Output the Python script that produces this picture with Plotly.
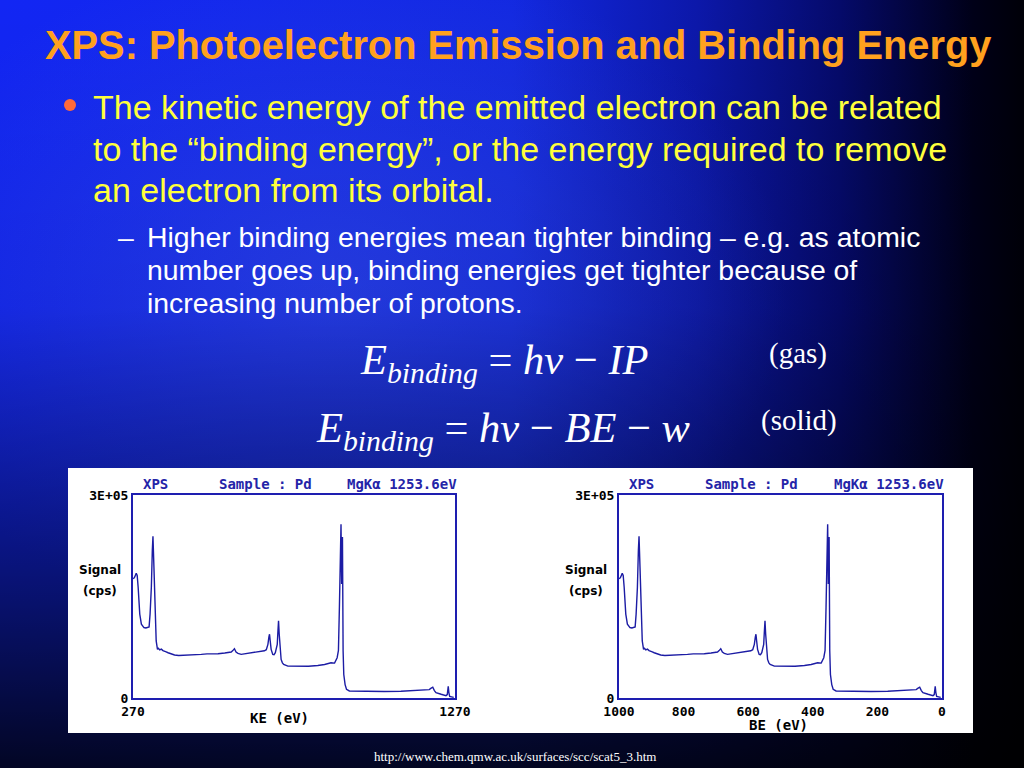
import base64
import plotly.graph_objects as go

# ---------------- data ----------------
ke = [271, 275, 280, 283, 286, 291, 296, 300, 304, 310, 316, 320, 323, 327, 330, 332, 335, 339,
      342, 346, 349, 353, 358, 363, 368, 373, 379, 388, 399, 412, 430, 445, 460, 482, 500, 520,
      534, 555, 570, 575, 580, 585, 590, 596, 606, 620, 637, 652, 668, 678, 684, 689, 692, 694,
      696, 699, 704, 708, 712, 715, 718, 720, 722, 724, 726, 730, 734, 738, 751, 770, 792, 815,
      844, 865, 885, 896, 904, 908, 911, 913, 916, 918, 920.5, 922.5, 924.6, 928.7, 933, 942,
      970, 999, 1050, 1102, 1154, 1180, 1190, 1196, 1201, 1206, 1211, 1227, 1242, 1246, 1249,
      1251, 1253.5, 1266]
signal = [176000, 178500, 184500, 181000, 163600, 124000, 109100, 105500, 104100, 103500, 104500,
          105100, 124000, 163600, 218200, 239000, 193400, 114100, 84300, 71900, 73500, 71000,
          72200, 70000, 69400, 68200, 66900, 65000, 63500, 62800, 63000, 63800, 64200, 64500,
          65200, 65000, 65500, 66500, 67500, 67900, 70000, 72900, 68000, 66000, 64500, 65500,
          66400, 67500, 68900, 69800, 71400, 79300, 90000, 94200, 85000, 71900, 64500, 64000,
          66900, 72000, 79300, 98000, 114100, 95000, 74400, 57000, 52000, 49600, 47100, 46800,
          46600, 47000, 48100, 49500, 52100, 51600, 59500, 70400, 133900, 203300, 256900, 168600,
          238000, 69400, 34700, 19800, 12900, 10400, 10000, 9900, 9700, 9900, 10900, 11500, 12400,
          14500, 15900, 11000, 7900, 5500, 3500, 5000, 17400, 8000, 2500, 1000]
# binding-energy axis of the right panel: BE = (hv - w) - KE, with hv - w read as 1270 eV
HV_MINUS_W = 1270
be = [HV_MINUS_W - k for k in ke]

ke_ticks = [270, 1270]
be_ticks = [1000, 800, 600, 400, 200, 0]
y_ticks = [0, 300000]
y_ticktext = ["0", "3E+05"]

W, H = 1024, 768


def px(x):
    return x / W


def py(y):
    return 1 - y / H


# ---------------- background gradient (decoration) ----------------
svg = f'''<svg xmlns="http://www.w3.org/2000/svg" width="{W}" height="{H}" viewBox="0 0 {W} {H}" preserveAspectRatio="none">
<defs>
<linearGradient id="h" x1="0" y1="0" x2="1" y2="0">
<stop offset="0" stop-color="#1226f4"/>
<stop offset="0.5" stop-color="#1228e0"/>
<stop offset="0.68" stop-color="#0c18aa"/>
<stop offset="0.82" stop-color="#050a6a"/>
<stop offset="0.95" stop-color="#000018"/>
<stop offset="1" stop-color="#000008"/>
</linearGradient>
<radialGradient id="r" cx="0.32" cy="0.38" r="0.45">
<stop offset="0" stop-color="#5a78ff" stop-opacity="0.28"/>
<stop offset="1" stop-color="#5a78ff" stop-opacity="0"/>
</radialGradient>
<linearGradient id="v" x1="0" y1="0" x2="0" y2="1">
<stop offset="0" stop-color="#000" stop-opacity="0"/>
<stop offset="0.4" stop-color="#000" stop-opacity="0.08"/>
<stop offset="0.78" stop-color="#000" stop-opacity="0.55"/>
<stop offset="1" stop-color="#000" stop-opacity="0.85"/>
</linearGradient>
</defs>
<rect width="{W}" height="{H}" fill="url(#h)"/>
<rect width="{W}" height="{H}" fill="url(#r)"/>
<rect width="{W}" height="{H}" fill="url(#v)"/>
</svg>'''
bg_src = "data:image/svg+xml;base64," + base64.b64encode(svg.encode()).decode()

LINE = "#1c1ca4"
FRAME = "#1e1eb0"
HEAD = "#2424a8"
MONO = "DejaVu Sans Mono"

fig = go.Figure()
fig.add_trace(go.Scatter(x=ke, y=signal, xaxis="x", yaxis="y", mode="lines",
                         line=dict(color=LINE, width=1.4), hoverinfo="skip"))
fig.add_trace(go.Scatter(x=be, y=signal, xaxis="x2", yaxis="y2", mode="lines",
                         line=dict(color=LINE, width=1.4), hoverinfo="skip"))

axis_common = dict(showgrid=False, zeroline=False, showline=True, mirror=True,
                   linecolor=FRAME, linewidth=2, ticks="", fixedrange=True, automargin=False,
                   tickfont=dict(family=MONO, size=13, color="black", weight="bold"))

fig.update_layout(
    width=W, height=H, margin=dict(l=0, r=0, t=0, b=0, pad=0), autosize=False,
    paper_bgcolor="#00003a", plot_bgcolor="rgba(0,0,0,0)", showlegend=False,
    images=[dict(source=bg_src, xref="paper", yref="paper", x=0, y=1, sizex=1, sizey=1,
                 xanchor="left", yanchor="top", sizing="stretch", layer="below")],
    shapes=[
        dict(type="rect", xref="paper", yref="paper", x0=px(68), x1=px(973), y0=py(733), y1=py(468),
             fillcolor="white", line=dict(width=0), layer="below"),
        dict(type="circle", xref="paper", yref="paper", x0=px(64), x1=px(76), y0=py(111), y1=py(99),
             fillcolor="#ff6a3a", line=dict(width=0)),
    ],
    xaxis=dict(domain=[px(133), px(455)], range=[270, 1270], tickvals=ke_ticks, anchor="y", **axis_common),
    yaxis=dict(domain=[py(698), py(495)], range=[0, 300000], tickvals=y_ticks, ticktext=y_ticktext,
               anchor="x", **axis_common),
    xaxis2=dict(domain=[px(619), px(942)], range=[1000, 0], tickvals=be_ticks, anchor="y2", **axis_common),
    yaxis2=dict(domain=[py(698), py(495)], range=[0, 300000], tickvals=y_ticks, ticktext=y_ticktext,
                anchor="x2", **axis_common),
)

ann = []


def txt(x, y, text, size, color, family, xanchor="left", weight="normal"):
    ann.append(dict(x=px(x), y=py(y), xref="paper", yref="paper", text=text, showarrow=False,
                    xanchor=xanchor, yanchor="middle",
                    font=dict(size=size, color=color, family=family, weight=weight)))


# title
txt(43, 45, "XPS: Photoelectron Emission and Binding Energy", 39.8, "#ffa11e",
    "Liberation Sans, Arial", weight="bold")

# main bullet (yellow)
YEL = "#ffff3c"
SANS = "Liberation Sans, Arial"
txt(91, 107, "The kinetic energy of the emitted electron can be related", 34, YEL, SANS)
txt(91, 149, "to the \u201cbinding energy\u201d, or the energy required to remove", 34, YEL, SANS)
txt(91, 190, "an electron from its orbital.", 34, YEL, SANS)

# sub bullet (white)
txt(116, 237, "\u2013", 28.4, "white", SANS)
txt(145, 237, "Higher binding energies mean tighter binding \u2013 e.g. as atomic", 28.4, "white", SANS)
txt(145, 270, "number goes up, binding energies get tighter because of", 28.4, "white", SANS)
txt(145, 303, "increasing number of protons.", 28.4, "white", SANS)

# equations
SERIF = "Liberation Serif, Times New Roman"
txt(358, 362, "<i>E</i><sub><i>binding</i></sub> = <i>h\u03bd</i> \u2212 <i>IP</i>", 42.5, "white", SERIF)
txt(767, 353, "(gas)", 29, "white", SERIF)
txt(314, 430, "<i>E</i><sub><i>binding</i></sub> = <i>h\u03bd</i> \u2212 <i>BE</i> \u2212 <i>w</i>", 42.5, "white", SERIF)
txt(759, 420, "(solid)", 29, "white", SERIF)

# panel headers
for x0, xs, xm in [(141, 217, 345), (627, 703, 832)]:
    txt(x0, 484, "XPS", 14, HEAD, MONO, weight="bold")
    txt(xs, 484, "Sample : Pd", 14, HEAD, MONO, weight="bold")
    txt(xm, 484, "MgK\u03b1 1253.6eV", 14, HEAD, MONO, weight="bold")

# axis titles
for xc in (100, 586):
    txt(xc, 570, "Signal", 12, "black", "DejaVu Sans", xanchor="center", weight="bold")
    txt(xc, 591, "(cps)", 12, "black", "DejaVu Sans", xanchor="center", weight="bold")
txt(279, 718, "KE (eV)", 14, "black", MONO, xanchor="center", weight="bold")
txt(778, 725, "BE (eV)", 14, "black", MONO, xanchor="center", weight="bold")

# footer
txt(515, 756, "http://www.chem.qmw.ac.uk/surfaces/scc/scat5_3.htm", 13, "white", SERIF, xanchor="center")

fig.update_layout(annotations=ann)
fig.write_html("out.html", config=dict(displayModeBar=False),
               post_script="document.body.style.margin='0';document.body.style.overflow='hidden';")
